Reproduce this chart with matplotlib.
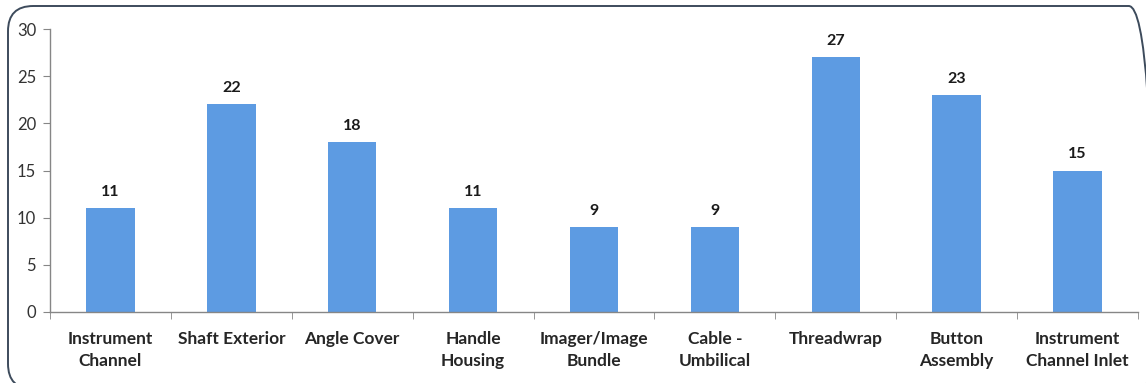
import numpy as np
import matplotlib.pyplot as plt
from matplotlib.patches import FancyBboxPatch

categories = ["Instrument\nChannel", "Shaft Exterior", "Angle Cover", "Handle\nHousing",
              "Imager/Image\nBundle", "Cable -\nUmbilical", "Threadwrap", "Button\nAssembly",
              "Instrument\nChannel Inlet"]
counts = [11, 22, 18, 11, 9, 9, 27, 23, 15]
y_ticks = [0, 5, 10, 15, 20, 25, 30]

plt.rcParams["font.family"] = ["Lato", "DejaVu Sans"]

fig = plt.figure(figsize=(11.46, 3.83), dpi=100)
W, H = 1146, 383

# rounded frame around the chart (runs off the right and bottom edges like the original)
frame = FancyBboxPatch((8 / W, -6 / H), 1146 / W, 383 / H,
                       boxstyle="round,pad=0,rounding_size=0.022",
                       transform=fig.transFigure, fill=False,
                       edgecolor="#3d4b5c", linewidth=1.4, mutation_aspect=W / H)
fig.patches.append(frame)

ax = fig.add_axes([50 / W, 1 - 312 / H, 1088 / W, 283 / H])
x = np.arange(len(categories))
ax.bar(x, counts, width=0.4, color="#5d9be2", zorder=2)

for xi, v in zip(x, counts):
    ax.text(xi, v + 1.0, str(v), ha="center", va="bottom",
            fontsize=11.5, fontweight="bold", color="#1a1a1a")

ax.set_xlim(-0.5, len(categories) - 0.5)
ax.set_ylim(0, 30)
ax.set_yticks(y_ticks)
ax.set_yticklabels([str(t) for t in y_ticks], fontsize=12, color="#333333")

# category labels centred, tick marks between categories
ax.set_xticks(x)
ax.set_xticklabels(categories, fontsize=12.5, fontweight="bold", color="#262626",
                   linespacing=1.42, va="top")
ax.tick_params(axis="x", length=0, pad=14)
ax.set_xticks(np.arange(len(categories) + 1) - 0.5, minor=True)
ax.tick_params(axis="x", which="minor", length=5, color="#868686", direction="out")
ax.tick_params(axis="y", length=5, color="#868686", direction="out", pad=5)

for s in ["top", "right"]:
    ax.spines[s].set_visible(False)
for s in ["left", "bottom"]:
    ax.spines[s].set_color("#868686")
    ax.spines[s].set_linewidth(1.0)

fig.savefig("out.png", dpi=100)
